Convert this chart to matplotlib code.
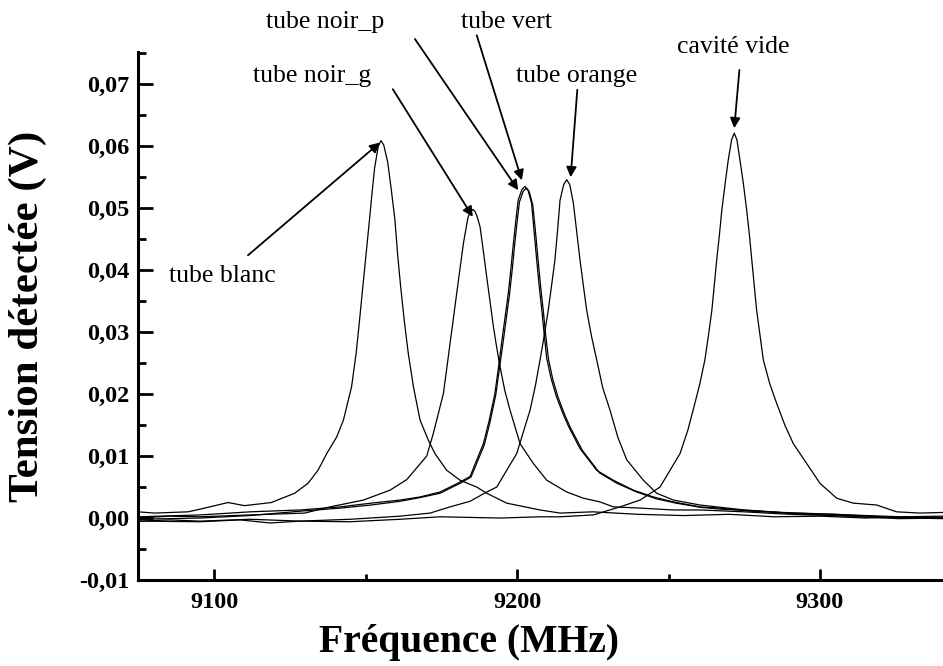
import matplotlib
matplotlib.use('Agg')
import matplotlib.pyplot as plt
from matplotlib.ticker import MultipleLocator, FuncFormatter

plt.rcParams['font.family'] = ['Liberation Serif', 'DejaVu Serif']
plt.rcParams['font.weight'] = 'bold'

# ---- data (frequency in MHz, detected voltage in V) ----
blanc_f = [9074.9, 9080.4, 9085.8, 9091.4, 9096.9, 9104.6, 9110.1, 9118.9, 9126.6, 9131.0,
           9134.3, 9137.2, 9140.5, 9142.7, 9145.4, 9146.9, 9148.0, 9149.1, 9150.2, 9151.3,
           9152.2, 9153.0, 9154.2, 9155.1, 9156.0, 9157.3, 9158.5, 9159.7, 9160.6, 9161.6,
           9162.8, 9164.1, 9165.8, 9168.0, 9170.7, 9172.9, 9176.8, 9181.2, 9186.7, 9190.0,
           9196.6, 9207.6, 9214.2, 9225, 9240, 9255, 9270, 9285, 9300, 9315,
           9330, 9340.6]
blanc_v = [0.0010, 0.0008, 0.0009, 0.0010, 0.0016, 0.0025, 0.0020, 0.0025, 0.0040, 0.0056,
           0.0077, 0.0104, 0.0131, 0.0158, 0.0212, 0.0266, 0.0318, 0.0373, 0.0427, 0.0481,
           0.0527, 0.0565, 0.0600, 0.0609, 0.0602, 0.0575, 0.0530, 0.0481, 0.0425, 0.0373,
           0.0318, 0.0266, 0.0212, 0.0158, 0.0126, 0.0104, 0.0077, 0.0061, 0.0050, 0.0040,
           0.0024, 0.0013, 0.0008, 0.0010, 0.0006, 0.0004, 0.0006, 0.0002, 0.0003, 0.0000,
           0.0002, 0.0001]

noir_g_f = [9074.9, 9085.5, 9095.4, 9111.9, 9129.9, 9138.3, 9149.3, 9158.1, 9163.6, 9170.2,
            9172.4, 9174.0, 9175.7, 9176.8, 9177.9, 9179.0, 9180.1, 9181.2, 9182.3, 9183.8,
            9184.6, 9185.4, 9186.1, 9186.8, 9187.8, 9188.9, 9190.0, 9191.1, 9192.2, 9193.3,
            9194.4, 9196.0, 9197.7, 9201.0, 9205.4, 9209.8, 9216.4, 9221.9, 9227.4, 9231.8,
            9240.6, 9251.6, 9260.4, 9275, 9290, 9305, 9320, 9340.6]
noir_g_v = [0.0000, 0.0003, 0.0002, 0.0005, 0.0008, 0.0018, 0.0029, 0.0045, 0.0062, 0.0100,
            0.0137, 0.0168, 0.0201, 0.0241, 0.0282, 0.0322, 0.0363, 0.0403, 0.0443, 0.0485,
            0.0494, 0.0498, 0.0495, 0.0487, 0.0470, 0.0430, 0.0389, 0.0349, 0.0309, 0.0275,
            0.0244, 0.0205, 0.0174, 0.0120, 0.0088, 0.0061, 0.0042, 0.0032, 0.0026, 0.0018,
            0.0016, 0.0013, 0.0013, 0.0010, 0.0006, 0.0004, 0.0001, -0.0001]

noir_p_f = [9074.9, 9095.4, 9111.9, 9128.4, 9141.6, 9151.8, 9161.4, 9168.0, 9174.6, 9181.2,
            9184.5, 9188.9, 9190.8, 9192.7, 9193.8, 9194.9, 9196.0, 9197.1, 9198.0, 9198.8,
            9199.6, 9200.4, 9201.6, 9202.6, 9203.6, 9204.8, 9205.6, 9206.5, 9207.3, 9208.2,
            9209.0, 9209.8, 9211.2, 9213.0, 9215.2, 9217.0, 9220.8, 9226.3, 9231.8, 9238.4,
            9245.0, 9251.6, 9260.4, 9267.0, 9276.9, 9293.4, 9309.9, 9326.4, 9340.6]
noir_p_v = [0.0002, 0.0005, 0.0010, 0.0013, 0.0018, 0.0024, 0.0029, 0.0034, 0.0042, 0.0058,
            0.0067, 0.0120, 0.0157, 0.0201, 0.0240, 0.0282, 0.0322, 0.0362, 0.0403, 0.0443,
            0.0480, 0.0513, 0.0530, 0.0535, 0.0530, 0.0508, 0.0465, 0.0416, 0.0375, 0.0335,
            0.0295, 0.0258, 0.0226, 0.0196, 0.0168, 0.0148, 0.0112, 0.0077, 0.0061, 0.0045,
            0.0034, 0.0026, 0.0018, 0.0016, 0.0011, 0.0008, 0.0005, 0.0002, 0.0003]

vert_f = [9074.9, 9095.4, 9111.9, 9128.4, 9141.6, 9151.8, 9161.4, 9168.0, 9174.6, 9181.2,
          9184.8, 9189.2, 9191.1, 9193.0, 9194.1, 9195.3, 9196.4, 9197.5, 9198.4, 9199.2,
          9200.0, 9200.8, 9202.0, 9203.0, 9204.0, 9205.2, 9206.1, 9207.0, 9207.8, 9208.7,
          9209.5, 9210.4, 9211.8, 9213.6, 9215.8, 9217.6, 9221.6, 9227.2, 9233.0, 9239.5,
          9246.0, 9252.5, 9261.0, 9268.0, 9278.0, 9294.0, 9310.0, 9326.0, 9340.6]
vert_v = [-0.0002, 0.0000, 0.0004, 0.0011, 0.0016, 0.0021, 0.0027, 0.0033, 0.0040, 0.0056,
          0.0066, 0.0118, 0.0155, 0.0199, 0.0238, 0.0280, 0.0320, 0.0360, 0.0400, 0.0440,
          0.0477, 0.0510, 0.0527, 0.0532, 0.0527, 0.0505, 0.0462, 0.0414, 0.0373, 0.0333,
          0.0293, 0.0256, 0.0224, 0.0194, 0.0166, 0.0146, 0.0109, 0.0073, 0.0056, 0.0042,
          0.0031, 0.0024, 0.0017, 0.0014, 0.0012, 0.0006, 0.0003, -0.0001, 0.0000]

orange_f = [9074.9, 9085.5, 9095.4, 9111.9, 9128.4, 9144.9, 9161.4, 9171.3, 9177.9, 9184.5,
            9190.0, 9193.3, 9196.6, 9199.9, 9204.3, 9206.0, 9207.6, 9209.0, 9210.3, 9211.4,
            9212.5, 9213.4, 9214.2, 9215.4, 9216.4, 9217.4, 9218.6, 9219.7, 9220.8, 9221.9,
            9223.0, 9224.6, 9226.3, 9228.3, 9230.7, 9233.3, 9236.2, 9241.7, 9246.1, 9251.6,
            9260.4, 9275, 9290, 9305, 9320, 9340.6]
orange_v = [-0.0005, -0.0003, -0.0005, -0.0002, -0.0005, -0.0002, 0.0003, 0.0008, 0.0018, 0.0027,
            0.0042, 0.0050, 0.0077, 0.0104, 0.0174, 0.0212, 0.0255, 0.0295, 0.0335, 0.0375,
            0.0416, 0.0465, 0.0513, 0.0538, 0.0546, 0.0538, 0.0508, 0.0462, 0.0416, 0.0375,
            0.0335, 0.0293, 0.0255, 0.0210, 0.0174, 0.0130, 0.0094, 0.0061, 0.0040, 0.0029,
            0.0021, 0.0013, 0.0008, 0.0006, 0.0002, 0.0000]

vide_f = [9074.9, 9095.4, 9108.6, 9118.5, 9128.4, 9144.9, 9161.4, 9174.6, 9184.5, 9194.4,
          9207.6, 9214.2, 9225.2, 9234.0, 9240.6, 9247.2, 9253.8, 9256.4, 9258.7, 9260.4,
          9262.0, 9263.2, 9264.3, 9265.1, 9265.9, 9266.8, 9267.6, 9268.7, 9269.7, 9270.8,
          9271.7, 9272.6, 9273.6, 9274.7, 9275.8, 9276.7, 9277.5, 9278.3, 9279.1, 9280.2,
          9281.3, 9283.4, 9285.7, 9288.4, 9291.2, 9295.6, 9300.0, 9305.5, 9311.0, 9318.7,
          9325.3, 9333.0, 9340.6]
vide_v = [-0.0005, -0.0006, -0.0003, -0.0008, -0.0005, -0.0006, -0.0002, 0.0002, 0.0001, 0.0000,
          0.0002, 0.0002, 0.0005, 0.0018, 0.0029, 0.0050, 0.0104, 0.0142, 0.0185, 0.0218,
          0.0255, 0.0295, 0.0335, 0.0375, 0.0416, 0.0457, 0.0497, 0.0540, 0.0577, 0.0610,
          0.0621, 0.0610, 0.0577, 0.0540, 0.0497, 0.0457, 0.0416, 0.0375, 0.0335, 0.0295,
          0.0255, 0.0217, 0.0185, 0.0150, 0.0120, 0.0088, 0.0056, 0.0032, 0.0024, 0.0021,
          0.0010, 0.0008, 0.0009]

# labels: text, text anchor (f, v), arrow start (f, v), arrow tip (f, v)
labels = ['tube blanc', 'tube noir_g', 'tube noir_p', 'tube vert', 'tube orange', 'cavité vide']
label_pos = [(9102.6, 0.0381), (9132.3, 0.0704), (9136.5, 0.0790),
             (9196.5, 0.0790), (9219.5, 0.0704), (9271.3, 0.0750)]
arrow_from = [(9111.2, 0.0424), (9159.0, 0.0692), (9166.3, 0.0773),
              (9186.7, 0.0779), (9219.9, 0.0691), (9273.4, 0.0723)]
arrow_to = [(9154.8, 0.0606), (9185.4, 0.0486), (9200.4, 0.0529),
            (9201.6, 0.0545), (9217.7, 0.0550), (9271.7, 0.0629)]

W, H = 943, 666
fig = plt.figure(figsize=(W / 100, H / 100), dpi=100)
ax = fig.add_axes([138 / W, 86 / H, 805 / W, 528 / H])

for f, v in [(blanc_f, blanc_v), (noir_g_f, noir_g_v), (noir_p_f, noir_p_v),
             (vert_f, vert_v), (orange_f, orange_v), (vide_f, vide_v)]:
    ax.plot(f, v, color='black', lw=0.9, solid_joinstyle='round')

ax.set_xlim(9074.9, 9340.6)
ax.set_ylim(-0.01, 0.0752)

for s in ['top', 'right']:
    ax.spines[s].set_visible(False)
for s in ['left', 'bottom']:
    ax.spines[s].set_linewidth(2.2)

ax.xaxis.set_major_locator(MultipleLocator(100))
ax.xaxis.set_minor_locator(MultipleLocator(50))
ax.yaxis.set_major_locator(MultipleLocator(0.01))
ax.yaxis.set_minor_locator(MultipleLocator(0.005))


def yfmt(v, pos):
    s = f"{v:.2f}"
    if s == "-0.00":
        s = "0.00"
    return s.replace('.', ',')


ax.yaxis.set_major_formatter(FuncFormatter(yfmt))
ax.xaxis.set_major_formatter(FuncFormatter(lambda v, p: f"{int(round(v))}"))

ax.tick_params(axis='y', which='major', direction='in', length=10.5, width=2, labelsize=17.5, pad=6)
ax.tick_params(axis='y', which='minor', direction='in', length=6, width=2)
ax.tick_params(axis='x', which='major', direction='in', length=8, width=2, labelsize=17.5, pad=9)
ax.tick_params(axis='x', which='minor', direction='in', length=4, width=2)

for txt, pos, a0, a1 in zip(labels, label_pos, arrow_from, arrow_to):
    ax.text(pos[0], pos[1], txt, ha='center', va='baseline', fontsize=18.5,
            fontweight='normal', clip_on=False)
    ax.annotate('', xy=a1, xytext=a0, annotation_clip=False,
                arrowprops=dict(arrowstyle='-|>', color='black', lw=1.3,
                                mutation_scale=15, shrinkA=0, shrinkB=0))

fig.text(469 / W, 14 / H, 'Fréquence (MHz)', ha='center', va='baseline',
         fontsize=28.5, fontweight='bold')
fig.text(28 / W, 350 / H, 'Tension détectée (V)', ha='center', va='center',
         rotation=90, fontsize=31, fontweight='bold')

fig.savefig('out.png', dpi=100)
